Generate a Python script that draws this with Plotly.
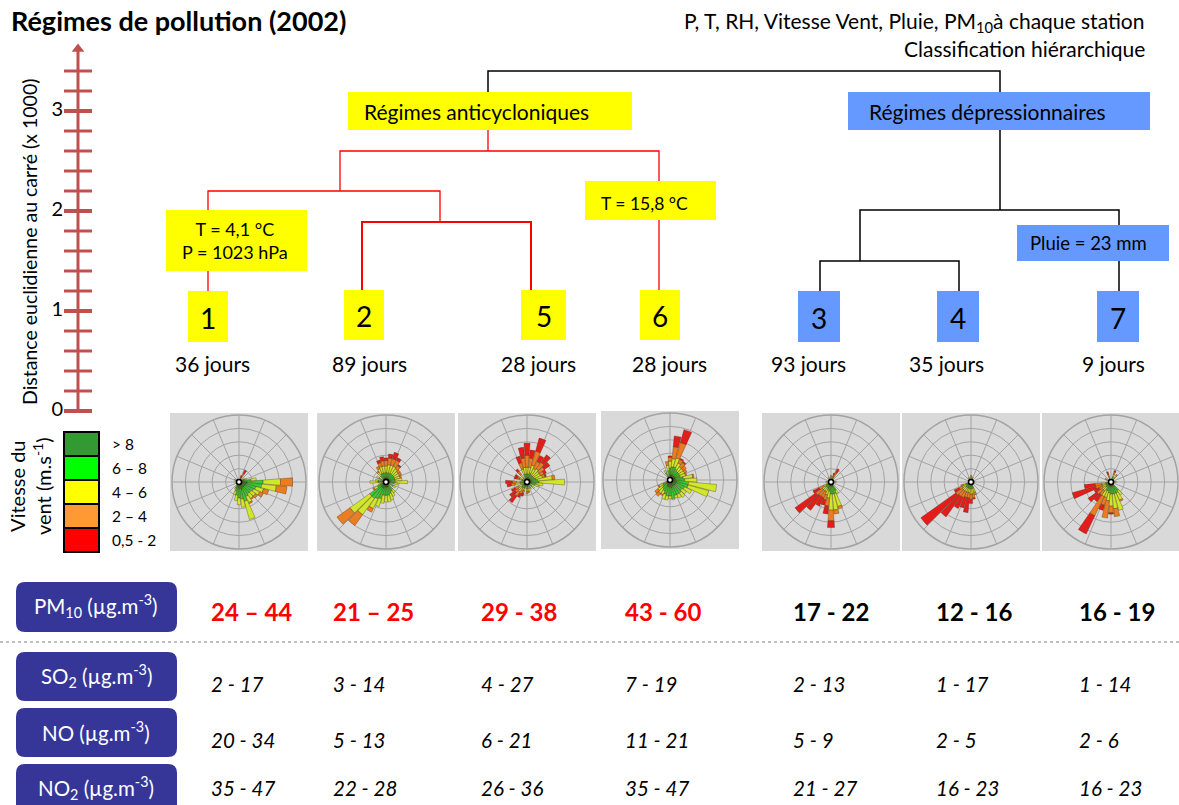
import plotly.graph_objects as go

W, H = 1179, 805
FONT = "Lato, 'Open Sans', sans-serif"

# ---------------- data ----------------
clusters = ["1", "2", "5", "6", "3", "4", "7"]
days = [36, 89, 28, 28, 93, 35, 9]
regime = ["anti", "anti", "anti", "anti", "dep", "dep", "dep"]
pm10 = ["24 – 44", "21 – 25", "29 - 38", "43 - 60", "17 - 22", "12 - 16", "16 - 19"]
pm10_high = [True, True, True, True, False, False, False]
so2 = ["2 - 17", "3 - 14", "4 - 27", "7 - 19", "2 - 13", "1 - 17", "1 - 14"]
no = ["20 - 34", "5 - 13", "6 - 21", "11 - 21", "5 - 9", "2 - 5", "2 - 6"]
no2 = ["35 - 47", "22 - 28", "26 - 36", "35 - 47", "21 - 27", "16 - 23", "16 - 23"]
pollutant_labels = ["PM<sub>10</sub> (µg.m<sup>-3</sup>)", "SO<sub>2</sub> (µg.m<sup>-3</sup>)",
                    "NO (µg.m<sup>-3</sup>)", "NO<sub>2</sub> (µg.m<sup>-3</sup>)"]

# dendrogram merge heights (distance euclidienne au carré, x 1000)
h_leaf = 1.2
h_25 = 1.89
h_1_25 = 2.2
h_anti = 2.6
h_34 = 1.5
h_dep = 2.01
h_root = 3.4
h_group_box = 3.0

axis_ticks = [round(0.2 * i, 1) for i in range(18)]
axis_labels = [0, 1, 2, 3]

speed_classes = ["> 8", "6 – 8", "4 – 6", "2 – 4", "0,5 - 2"]
legend_colors = ["#339933", "#00ff00", "#ffff00", "#ff9933", "#ff0000"]
rose_colors = ["#2b8f2b", "#38cc38", "#cfe82a", "#ea7d22", "#e41c1c"]

# wind roses : (direction deg, >8, 6-8, 4-6, 2-4, 0.5-2) in ring units
rose1 = [(20, .1, .1, .1, .1, .1), (30, .2, .1, .1, .3, .3), (60, .2, .2, .1, 0, 0), (70, .3, .2, .1, 0, 0),
         (80, .4, .5, .4, 0, 0), (90, .6, 1.2, 1.3, .9, 0), (100, .6, 1.1, 1.1, .8, 0), (110, .5, .8, .6, .4, 0),
         (120, .5, .7, .5, .3, 0), (130, .5, .6, .4, .2, 0), (140, .5, .6, .4, .1, 0), (150, .5, .7, .5, .1, 0),
         (160, .6, .9, 1.4, 0, 0), (170, .5, .8, .6, 0, 0), (180, .5, .7, .5, 0, 0), (190, .4, .6, .4, 0, 0),
         (200, .3, .4, .3, 0, 0), (210, .2, .3, .1, 0, 0), (270, .1, .1, .1, 0, 0), (300, .2, .1, .1, 0, 0),
         (330, .1, .1, 0, 0, 0)]
rose2 = [(0, .3, .4, .5, .4, .2), (10, .3, .4, .6, .5, .3), (20, .3, .4, .6, .5, .5), (30, .3, .4, .6, .5, .2),
         (40, .3, .4, .5, .3, .1), (50, .3, .4, .4, .2, 0), (60, .3, .4, .4, .2, 0), (70, .3, .4, .4, .1, 0),
         (80, .3, .4, .5, 0, 0), (90, .3, .4, .9, 0, 0), (100, .3, .3, .3, 0, 0), (120, .3, .3, .2, 0, 0),
         (140, .3, .4, .3, 0, 0), (150, .3, .5, .4, 0, 0), (160, .4, .5, .5, 0, 0), (170, .4, .6, .5, 0, 0),
         (180, .4, .6, .5, 0, 0), (190, .4, .6, .6, 0, 0), (200, .5, .8, .6, 0, 0), (210, .5, .9, .8, .3, 0),
         (220, .5, 1.0, 1.5, 1.0, 0), (230, .5, 1.0, 1.8, 1.2, 0), (240, .3, .4, .3, .1, 0), (250, .3, .2, .1, 0, 0),
         (270, .3, .3, .6, 0, 0), (280, .3, .3, .2, 0, 0), (300, .3, .3, .2, 0, 0), (320, .3, .3, .3, .1, 0),
         (330, .3, .4, .4, .2, 0), (340, .3, .4, .5, .3, .2), (350, .3, .4, .5, .4, .3)]
rose3 = [(0, .3, .3, .5, .9, .9), (10, .3, .3, .5, .7, .6), (20, .3, .4, .6, 1.1, 1.0), (30, .3, .3, .5, .6, .5),
         (40, .3, .3, .6, .6, .7), (50, .3, .3, .5, .5, .5), (60, .3, .3, .5, .3, .2), (70, .3, .4, .5, .2, .1),
         (80, .3, .5, 1.1, .2, 0), (90, .3, .6, 1.9, 0, 0), (100, .3, .4, .5, 0, 0), (110, .3, .3, .3, 0, 0),
         (130, .3, .2, .2, 0, 0), (150, .3, .2, .1, 0, 0), (170, .3, .2, .2, .1, 0), (180, .3, .2, .2, .2, 0),
         (200, .3, .2, .2, .2, .2), (210, .3, .2, .2, .3, .3), (220, .3, .3, .3, .4, .6), (230, .3, .2, .3, .3, .5),
         (240, .2, .2, .3, .3, .3), (260, .2, .3, .4, .3, .3), (270, .2, .3, .3, .3, .5), (290, .2, .2, .2, .2, .2),
         (300, .2, .2, .2, .2, .2), (320, .2, .2, .3, .3, .2), (340, .3, .3, .4, .5, .5), (350, .3, .3, .5, .7, .8)]
rose4 = [(0, .4, .5, .5, .3, .1), (10, .4, .6, .6, .9, .8), (20, .4, .6, .7, 1.2, 1.0), (30, .4, .5, .5, .3, .1),
         (40, .4, .4, .4, .4, .1), (50, .4, .4, .4, .3, 0), (60, .4, .4, .4, .2, 0), (70, .4, .4, .4, .1, 0),
         (80, .4, .6, .7, .1, 0), (90, .4, .7, .9, 0, 0), (100, .5, .9, 2.1, 0, 0), (110, .5, .9, 1.6, 0, 0),
         (120, .5, .7, .6, 0, 0), (130, .5, .6, .4, 0, 0), (140, .5, .7, .4, 0, 0), (150, .5, .7, .3, 0, 0),
         (160, .5, .7, .2, 0, 0), (170, .6, .8, .1, 0, 0), (180, .5, .7, .2, 0, 0), (190, .5, .7, .3, 0, 0),
         (200, .5, .6, .4, 0, 0), (210, .4, .5, .3, .1, 0), (220, .3, .5, .4, .3, 0), (230, .3, .4, .4, .3, 0),
         (240, .3, .3, .3, .1, 0), (330, .3, .3, .2, 0, 0), (350, .3, .4, .4, .3, 0)]
rose5 = [(0, .2, .1, .1, .1, 0), (20, .2, .1, .1, .2, .1), (30, .2, .1, .1, .4, .3), (90, .2, .1, .1, 0, 0),
         (150, .3, .4, .3, 0, 0), (160, .3, .6, 1.0, .2, 0), (170, .3, .6, 1.2, .3, 0), (180, .3, .6, 1.2, .8, .5),
         (190, .3, .4, .5, .6, .6), (200, .3, .3, .4, .4, .4), (210, .2, .3, .3, .5, .7), (220, .2, .3, .3, .5, 1.3),
         (230, .2, .3, .3, .6, 1.9), (240, .2, .2, .2, .4, .5), (270, .2, .1, .1, 0, 0), (330, .2, .1, .1, 0, 0)]
rose6 = [(0, .2, .1, .1, .1, 0), (20, .2, .1, .1, 0, 0), (90, .2, .1, 0, 0, 0), (160, .2, .3, .3, .2, 0),
         (170, .2, .3, .4, .3, .1), (180, .2, .3, .4, .4, .3), (190, .2, .3, .3, .4, 1.1), (200, .2, .3, .3, .4, .8),
         (210, .2, .3, .3, .5, .9), (220, .2, .3, .3, .5, 1.9), (230, .2, .3, .3, .6, 3.2), (240, .2, .2, .3, .3, .4),
         (250, .2, .2, .2, .2, 0), (330, .2, .1, .1, 0, 0)]
rose7 = [(20, .2, .2, .2, .2, .1), (40, .2, .2, .2, .1, 0), (90, .2, .1, .1, 0, 0), (140, .3, .5, .4, 0, 0),
         (150, .3, .6, .6, .1, 0), (160, .3, .6, 1.3, 0, 0), (170, .3, .6, 1.1, .6, 0), (180, .3, .6, .9, .5, .1),
         (190, .3, .5, .6, 1.3, 0), (200, .3, .4, .5, .6, .4), (210, .3, .4, .5, 1.6, 1.5), (220, .2, .3, .3, .4, .6),
         (230, .2, .3, .3, .5, .8), (240, .2, .2, .3, .3, .4), (250, .2, .2, .3, .5, 1.8), (260, .2, .2, .3, .5, .8),
         (300, .2, .1, .1, .1, 0), (340, .2, .1, .1, .2, .2)]
roses = [rose1, rose2, rose3, rose4, rose5, rose6, rose7]

# ---------------- layout positions (pixels) ----------------
leaf_x = [208, 362, 531, 659, 820, 959, 1119]
leaf_box = [(188, 228, 291, 342), (344, 384, 290, 340), (521, 566, 290, 340), (640, 680, 290, 340),
            (798, 840, 291, 342), (937, 979, 291, 342), (1097, 1139, 291, 342)]
days_x = [212, 369, 538, 669, 808, 946, 1113]
rose_cx = [239, 386, 527, 670, 831, 971, 1111]
rose_cy = [482, 482, 482, 480, 482, 482, 482]
col_x = [209, 331, 479, 623, 791, 934, 1077]

YELLOW = "#ffff00"
BLUE = "#6699ff"
RED = "#ff0000"
NAVY = "#363699"
AXC = "#c0504d"


def X(px):
    return px / W


def Y(py):
    return 1 - py / H


def U(py):  # pixel row -> distance units (0 at row 411, 100 px per unit)
    return (411 - py) / 100


fig = go.Figure()

# ---------- dendrogram ----------
links = [
    (362, 531, h_25, h_leaf, h_leaf, RED, 2),
    (208, 440, h_1_25, h_leaf, h_25, RED, 1.3),
    (340, 659, h_anti, h_1_25, h_leaf, RED, 1.3),
    (488, 488, h_group_box, h_anti, h_anti, RED, 1.3),
    (820, 959, h_34, h_leaf, h_leaf, "black", 1.5),
    (860, 1119, h_dep, h_34, h_leaf, "black", 1.5),
    (1000, 1000, h_group_box, h_dep, h_dep, "black", 1.5),
    (488, 1000, h_root, h_group_box, h_group_box, "black", 1.5),
]
for xl, xr, h, hl, hr, col, lw in links:
    fig.add_trace(go.Scatter(x=[xl, xl, xr, xr], y=[hl, h, h, hr], mode="lines",
                             line=dict(color=col, width=lw), hoverinfo="skip", showlegend=False))

# ---------- distance axis ----------
fig.add_trace(go.Scatter(x=[78, 78], y=[0, 3.62], mode="lines", line=dict(color=AXC, width=3),
                         hoverinfo="skip", showlegend=False))
fig.add_trace(go.Scatter(x=[78], y=[3.62], mode="markers",
                         marker=dict(symbol="triangle-up", size=11, color=AXC),
                         hoverinfo="skip", showlegend=False))
fig.add_trace(go.Scatter(x=[78] * len(axis_ticks), y=axis_ticks, mode="markers",
                         marker=dict(symbol="line-ew", size=20,
                                     line=dict(color=AXC, width=[4 if abs(t - round(t)) < 1e-6 else 3
                                                                 for t in axis_ticks])),
                         hoverinfo="skip", showlegend=False))
fig.add_trace(go.Scatter(x=[63] * len(axis_labels), y=axis_labels, mode="text",
                         text=[str(v) for v in axis_labels], textposition="middle left",
                         textfont=dict(family=FONT, size=20, color="black"),
                         hoverinfo="skip", showlegend=False))

shapes = []
ann = []


def rect(x0, x1, y0, y1, color, line=None, layer="above"):
    shapes.append(dict(type="rect", xref="paper", yref="paper", x0=X(x0), x1=X(x1), y0=Y(y1), y1=Y(y0),
                       fillcolor=color, line=line or dict(width=0), layer=layer))


def rrect(x0, x1, y0, y1, r, color):
    pts = [("M", x0 + r, y0), ("L", x1 - r, y0), ("Q", x1, y0, x1, y0 + r), ("L", x1, y1 - r),
           ("Q", x1, y1, x1 - r, y1), ("L", x0 + r, y1), ("Q", x0, y1, x0, y1 - r), ("L", x0, y0 + r),
           ("Q", x0, y0, x0 + r, y0)]
    path = ""
    for p in pts:
        cmd = p[0]
        coords = p[1:]
        s = " ".join(f"{X(coords[i]):.5f},{Y(coords[i + 1]):.5f}" for i in range(0, len(coords), 2))
        path += f"{cmd}{s} "
    path += "Z"
    shapes.append(dict(type="path", xref="paper", yref="paper", path=path, fillcolor=color,
                       line=dict(width=0), layer="above"))


def text(px, py, t, size=18, color="black", xanchor="center", yanchor="middle", angle=0, align="center"):
    ann.append(dict(xref="paper", yref="paper", x=X(px), y=Y(py), text=t, showarrow=False,
                    xanchor=xanchor, yanchor=yanchor, textangle=angle, align=align,
                    font=dict(family=FONT, size=size, color=color)))


# group boxes
rect(348, 632, 92, 130, YELLOW)
text(476, 112, "Régimes anticycloniques", 21)
rect(848, 1150, 92, 130, BLUE)
text(987, 112, "Régimes dépressionnaires", 21)
rect(166, 307, 210, 271, YELLOW)
text(235, 241, "T = 4,1 °C<br>P = 1023 hPa", 18)
rect(585, 716, 181, 220, YELLOW)
text(644, 203, "T = 15,8 °C", 17.5)
rect(1017, 1169, 225, 261, BLUE)
text(1088, 243, "Pluie = 23 mm", 18.5)

# leaves
for i, c in enumerate(clusters):
    x0, x1, y0, y1 = leaf_box[i]
    rect(x0, x1, y0, y1, YELLOW if regime[i] == "anti" else BLUE)
    text((x0 + x1) / 2, (y0 + y1) / 2 + 1, c, 28)
    text(days_x[i], 363, f"{days[i]} jours", 21)

# titles
text(9, 21, "<b>Régimes de pollution (2002)</b>", 27, xanchor="left")
text(1147, 22, "P, T, RH, Vitesse Vent, Pluie, PM<sub>10</sub>à chaque station", 21, xanchor="right")
text(1147, 49, "Classification hiérarchique", 21, xanchor="right")
text(30, 242, "Distance euclidienne au carré (x 1000)", 19.5, angle=-90)

# wind-speed legend
for k, col in enumerate(legend_colors):
    y0 = 432 + 24 * k
    rect(64, 99, y0, y0 + 24, col, line=dict(color="black", width=2))
    text(110, y0 + 12, speed_classes[k], 15.5, xanchor="left")
text(30, 486, "Vitesse du<br>vent (m.s<sup>-1</sup>)", 20, angle=-90)

# rose panels background
for cx, cy in zip(rose_cx, rose_cy):
    rect(cx - 69, cx + 69, cy - 69, cy + 69, "#d9d9d9", layer="below")

# table
row_boxes = [(582, 632), (652, 701), (708, 757), (764, 814)]
for (y0, y1), lab in zip(row_boxes, pollutant_labels):
    rrect(16, 177, y0, y1, 9, NAVY)
    text(96, (y0 + y1) / 2 - 1, lab, 20.5, color="white")
shapes.append(dict(type="line", xref="paper", yref="paper", x0=0, x1=1, y0=Y(642), y1=Y(642),
                   line=dict(color="#808080", width=1, dash="dot")))
for i in range(7):
    text(col_x[i], 611, f"<b>{pm10[i]}</b>", 24, color=RED if pm10_high[i] else "black", xanchor="left")
    text(col_x[i], 684, f"<i>{so2[i]}</i>", 20.5, xanchor="left")
    text(col_x[i], 740, f"<i>{no[i]}</i>", 20.5, xanchor="left")
    text(col_x[i], 788, f"<i>{no2[i]}</i>", 20.5, xanchor="left")

# ---------- wind roses ----------
polars = {}
for j, rose in enumerate(roses):
    name = "polar" if j == 0 else f"polar{j + 1}"
    dirs = [b[0] for b in rose]
    for k in range(5):
        fig.add_trace(go.Barpolar(theta=dirs, r=[b[k + 1] for b in rose], width=[9] * len(dirs),
                                  marker=dict(color=rose_colors[k], line=dict(color="rgba(70,40,0,0.55)", width=0.6)),
                                  subplot=name, showlegend=False, hoverinfo="skip"))
    fig.add_trace(go.Scatterpolar(r=[0], theta=[0], mode="markers",
                                  marker=dict(size=5, color="white", line=dict(color="black", width=1.5)),
                                  subplot=name, showlegend=False, hoverinfo="skip"))
    cx, cy = rose_cx[j], rose_cy[j]
    polars[name] = dict(
        domain=dict(x=[X(cx - 67), X(cx + 67)], y=[Y(cy + 67), Y(cy - 67)]),
        bgcolor="#d9d9d9", barmode="stack", bargap=0,
        radialaxis=dict(range=[0, 5], tickvals=[1, 2, 3, 4], showticklabels=False, ticks="",
                        showline=False, gridcolor="#a3a3a3", gridwidth=1),
        angularaxis=dict(rotation=90, direction="clockwise", dtick=22.5, showticklabels=False, ticks="",
                         gridcolor="#a3a3a3", linecolor="#a3a3a3", linewidth=1.5),
    )

fig.update_layout(
    width=W, height=H, margin=dict(l=0, r=0, t=0, b=0),
    paper_bgcolor="white", plot_bgcolor="rgba(0,0,0,0)",
    xaxis=dict(range=[0, W], visible=False, fixedrange=True),
    yaxis=dict(range=[U(H), U(0)], visible=False, fixedrange=True),
    shapes=shapes, annotations=ann, showlegend=False,
    **polars,
)

fig.write_html("out.html", config={"displayModeBar": False},
               post_script="document.body.style.margin='0';")
